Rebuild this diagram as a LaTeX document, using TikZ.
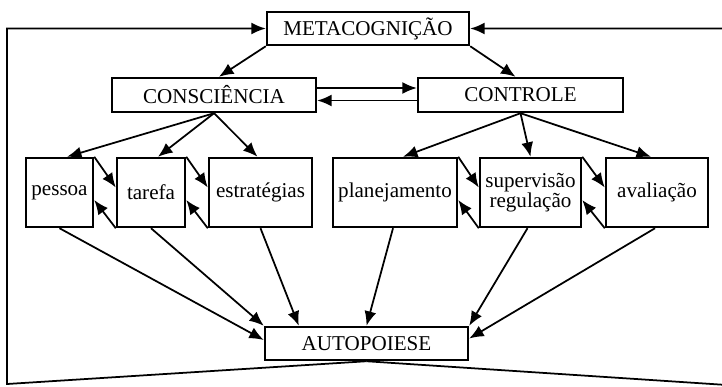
\documentclass[tikz,border=0pt]{standalone}
\usepackage{fontspec}
\setmainfont{Liberation Serif}
\usetikzlibrary{arrows.meta}
\tikzset{
  box/.style={draw, line width=1.4pt, inner sep=2pt, align=center, font=\fontsize{12}{13.5}\selectfont},
  arr/.style={line width=1pt, -{Latex[length=2.9mm,width=2.4mm]}}
}
\begin{document}
\begin{tikzpicture}[x=0.02cm, y=-0.02cm]
            \useasboundingbox (0,0) rectangle (722,386);
            % Boxes
            \node[box, minimum width=4.04cm, minimum height=0.66cm] (meta) at (368,28.5) {METACOGNIÇÃO};
            \node[box, minimum width=4.08cm, minimum height=0.68cm] (consc) at (214,95) {CONSCIÊNCIA};
            \node[box, minimum width=4.1cm, minimum height=0.68cm] (contr) at (520.5,95) {CONTROLE};
            \node[box, minimum width=1.34cm, minimum height=1.38cm] (pessoa) at (59.5,192.5) {pessoa};
            \node[box, minimum width=1.36cm, minimum height=1.38cm] (tarefa) at (151,192.5) {tarefa};
            \node[box, minimum width=2.06cm, minimum height=1.38cm] (estrat) at (260.5,192.5) {estratégias};
            \node[box, minimum width=2.48cm, minimum height=1.38cm] (plan) at (395,192.5) {planejamento};
            \node[box, minimum width=2.02cm, minimum height=1.38cm] (super) at (530.5,192.5) {supervisão\\[-2pt]regulação};
            \node[box, minimum width=2.04cm, minimum height=1.38cm] (aval) at (657,192.5) {avaliação};
            \node[box, minimum width=4.06cm, minimum height=0.66cm] (auto) at (366.5,343.5) {AUTOPOIESE};

            % Frame
            \coordinate (bl) at (7,384);
            \coordinate (br) at (727,385);
            \draw[arr] (auto.south) -- (bl) |- (meta.west);
            \draw[arr] (auto.south) -- (br) |- (meta.east);

            % Arrows
            \draw[arr] (meta.south west) -- ([xshift=1mm]consc.north);
            \draw[arr] (meta.south east) -- ([xshift=-1mm]contr.north);
            \draw[arr] ([yshift=1.4mm]consc.east) -- ([yshift=1.4mm]contr.west);
            \draw[arr] ([yshift=-1.1mm]contr.west) -- ([yshift=-1.1mm]consc.east);

            \draw[arr] (consc.south) -- ([xshift=1.5mm]pessoa.north);
            \draw[arr] (consc.south) -- ([xshift=1.4mm]tarefa.north);
            \draw[arr] (consc.south) -- ([xshift=-0.6mm]estrat.north);
            \draw[arr] (contr.south) -- ([xshift=1.6mm]plan.north);
            \draw[arr] (contr.south) -- (super.north);
            \draw[arr] (contr.south) -- ([xshift=-1.2mm]aval.north);

            \draw[arr] (pessoa.north east) -- ([yshift=1mm]tarefa.west);
            \draw[arr] (tarefa.south west) -- ([yshift=-1.5mm]pessoa.east);
            \draw[arr] (tarefa.north east) -- ([yshift=1mm]estrat.west);
            \draw[arr] (estrat.south west) -- ([yshift=-1.5mm]tarefa.east);
            \draw[arr] (plan.north east) -- ([yshift=1mm]super.west);
            \draw[arr] (super.south west) -- ([yshift=-1.5mm]plan.east);
            \draw[arr] (super.north east) -- ([yshift=1mm]aval.west);
            \draw[arr] (aval.south west) -- ([yshift=-1.5mm]super.east);

            \draw[arr] (pessoa.south) -- ([yshift=0.7mm]auto.west);
            \draw[arr] (tarefa.south) -- (auto.north west);
            \draw[arr] (estrat.south) -- ([xshift=7mm]auto.north west);
            \draw[arr] ([xshift=-0.4mm]plan.south) -- (auto.north);
            \draw[arr] ([xshift=-0.6mm]super.south) -- (auto.north east);
            \draw[arr] ([xshift=-0.4mm]aval.south) -- ([yshift=1mm]auto.east);
        \end{tikzpicture}
\end{document}
